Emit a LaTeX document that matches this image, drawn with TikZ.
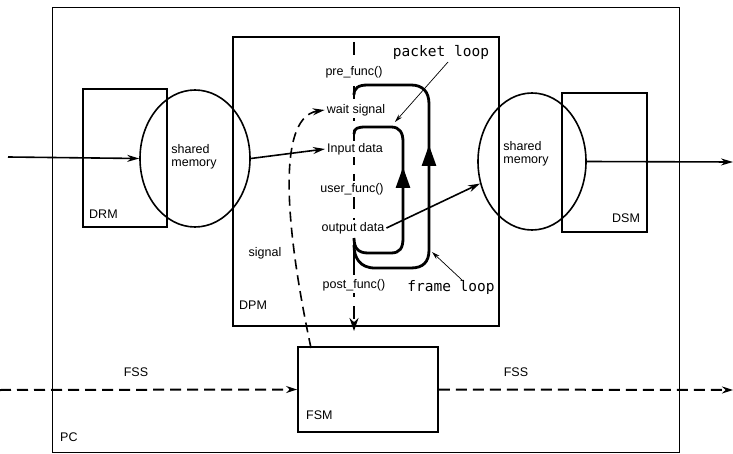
\documentclass[tikz,border=0pt]{standalone}
\usepackage{fontspec}
\setmainfont{Liberation Sans}
\setmonofont{DejaVu Sans Mono}
\usetikzlibrary{arrows.meta,shapes.geometric}
\begin{document}
\begin{tikzpicture}[x=1pt,y=-1pt,
  box/.style={draw,line width=1.5pt,inner sep=0pt},
  thinbox/.style={draw,line width=1pt,inner sep=0pt},
  mem/.style={draw,ellipse,line width=1.6pt,inner sep=0pt},
  lbl/.style={font=\fontsize{12.5}{13.5}\selectfont,inner sep=1pt},
  clbl/.style={lbl,fill=white,inner sep=2pt},
  mono/.style={font=\fontsize{14.5}{15}\ttfamily,inner sep=1pt},
  flow/.style={line width=1.6pt,-{Stealth[length=12pt,width=7pt]}},
  fss/.style={line width=2pt,dash pattern=on 11pt off 6pt,-{Stealth[length=11pt,width=7pt]}},
  cdash/.style={line width=2.2pt,dash pattern=on 13pt off 9pt,-{Stealth[length=13pt,width=9pt]}},
  sig/.style={line width=1.6pt,dash pattern=on 10pt off 6pt,-{Stealth[length=12pt,width=7pt]}},
  loopline/.style={line width=2.8pt},
  looptip/.style={line width=2.8pt,-{Triangle[length=21pt,width=14pt]}},
  note/.style={line width=0.7pt,-{Stealth[length=8pt,width=4.5pt]}}]
\useasboundingbox (0,0) rectangle (733,454);

% boxes
\node[thinbox,minimum width=627pt,minimum height=444pt] (pc) at (365.5,230) {};
\node[box,minimum width=266pt,minimum height=289pt] (dpm) at (366,181.5) {};
\node[box,minimum width=84pt,minimum height=138pt] (drm) at (125,158) {};
\node[box,minimum width=85pt,minimum height=139pt] (dsm) at (604.5,162.5) {};
\node[box,line width=1.8pt,minimum width=140pt,minimum height=85pt] (fsm) at (368,389.5) {};
\node[mem,minimum width=110pt,minimum height=137pt] (lsm) at (195,158.5) {};
\node[mem,minimum width=108pt,minimum height=137pt] (rsm) at (532,161.5) {};

% box labels
\node[lbl,anchor=west] (pclbl) at (59,437) {PC};
\node[lbl,anchor=west] (fsmlbl) at (305,415) {FSM};
\node[lbl,anchor=west] (dpmlbl) at (238,305) {DPM};
\node[lbl,anchor=west] (drmlbl) at (88,214) {DRM};
\node[lbl,anchor=west] (dsmlbl) at (611,218) {DSM};
\node[lbl,align=left] (lsmtxt) at (194,157) {shared\\memory};
\node[lbl,align=left] (rsmtxt) at (526,154) {shared\\memory};
\node[lbl] (fss1) at (136,372) {FSS};
\node[lbl] (fss2) at (516,372) {FSS};
\node[lbl] (siglbl) at (265,253) {signal};

% centre flow line
\coordinate (ctop) at (354,42);
\coordinate (cbot) at (354,331);
\draw[cdash] (ctop) -- (cbot);
\node[clbl] (pre) at (354,72) {pre\_func()};
\node[clbl] (wait) at (356,110) {wait signal};
\node[clbl] (indata) at (355,149) {Input data};
\node[clbl] (user) at (352,189) {user\_func()};
\node[clbl] (outdata) at (353,228) {output data};
\node[clbl] (post) at (354,285) {post\_func()};

% loops
\draw[loopline] (354,272) -- (354,238);
\draw[loopline] (354,134) .. controls (354,128) and (358,127) .. (366,127) -- (391,127)
  .. controls (400,127) and (403,133) .. (403,142) -- (403,238)
  .. controls (403,248) and (400,253) .. (391,253) -- (368,253)
  .. controls (358,253) and (354,248) .. (354,238);
\draw[loopline] (354,95) .. controls (354,88) and (358,85) .. (368,85) -- (411,85)
  .. controls (423,85) and (429,92) .. (429,104) -- (429,250)
  .. controls (429,262) and (423,268) .. (411,268) -- (375,268)
  .. controls (360,268) and (354,258) .. (354,245);
\draw[looptip] (403,192) -- (403,167);
\draw[looptip] (429,168) -- (429,145);

\node[mono] (pkt) at (441,52) {packet loop};
\node[mono] (frm) at (451,287) {frame loop};
\coordinate (pktfrom) at (448,62);
\coordinate (pktto) at (395,122);
\coordinate (frmfrom) at (462,280);
\coordinate (frmto) at (432,252);
\draw[note] (pktfrom) -- (pktto);
\draw[note] (frmfrom) -- (frmto);

% data flow
\coordinate (inL) at (8,157);
\coordinate (outR) at (733,162);
\draw[flow] (inL) -- (lsm.west);
\draw[flow] (lsm.east) -- (indata.west);
\draw[flow] (outdata.east) -- (rsm.203);
\draw[flow] (rsm.east) -- (outR);

% FSS
\coordinate (fssL) at (0,390);
\coordinate (fssR) at (733,390);
\draw[fss] (fssL) -- (fsm.west);
\draw[fss] (fsm.east) -- (fssR);

% signal
\coordinate (sigstart) at (311,348);
\draw[sig] (sigstart) .. controls (290,250) and (272,118) .. (wait.west);
\end{tikzpicture}
\end{document}
